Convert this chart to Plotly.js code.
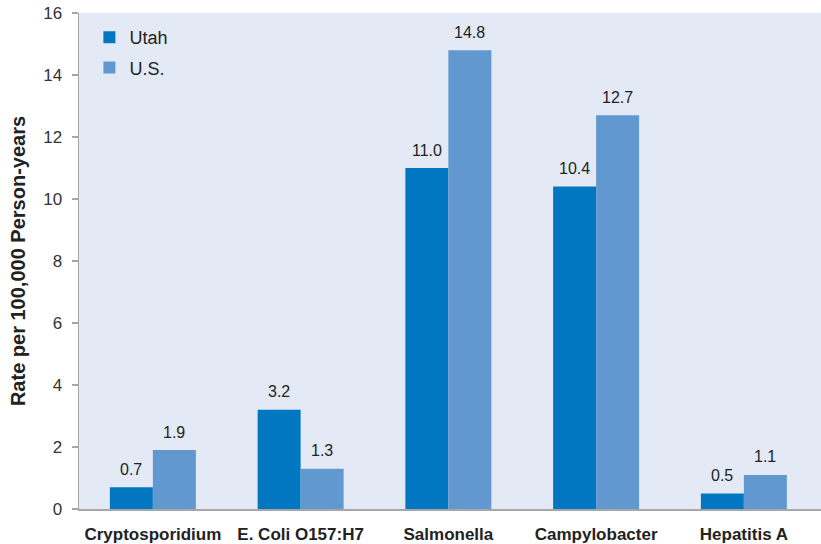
<!DOCTYPE html>
<html>
<head>
<meta charset="utf-8">
<script src="https://cdn.plot.ly/plotly-3.0.1.min.js"></script>
<style>html,body{margin:0;padding:0;background:#fff;}#chart{width:821px;height:544px;}</style>
</head>
<body>
<div id="chart"></div>
<script>
const categories = ["Cryptosporidium", "E. Coli O157:H7", "Salmonella", "Campylobacter", "Hepatitis A"];
const utahValues = [0.7, 3.2, 11.0, 10.4, 0.5];
const usValues = [1.9, 1.3, 14.8, 12.7, 1.1];
const seriesNames = ["Utah", "U.S."];
const yTicks = [0, 2, 4, 6, 8, 10, 12, 14, 16];

const colors = ["#0077C0", "#6198D0"];
const font = "Liberation Sans, Arial, sans-serif";

const traces = [utahValues, usValues].map((vals, i) => ({
  type: "bar",
  name: seriesNames[i],
  legendgroup: "g" + i,
  x: categories,
  y: vals,
  marker: {color: colors[i], line: {width: 0}},
  hoverinfo: "none"
}));

const annotations = [];
[utahValues, usValues].forEach((vals, i) => {
  vals.forEach((v, j) => {
    annotations.push({
      x: categories[j], y: v, xref: "x", yref: "y",
      text: v.toFixed(1), showarrow: false,
      xshift: i === 0 ? -21.5 : 21.5, yshift: 18, yanchor: "middle",
      font: {family: font, size: 16, color: "#222"}
    });
  });
});

const layout = {
  width: 821, height: 544,
  margin: {l: 79, r: 0, t: 13, b: 35, pad: 0},
  paper_bgcolor: "#ffffff",
  plot_bgcolor: "#E4EAF5",
  barmode: "group",
  bargap: 0.418,
  bargroupgap: 0,
  showlegend: true,
  legend: {
    x: 0.014, y: 0.988, xanchor: "left", yanchor: "top",
    bgcolor: "rgba(0,0,0,0)", borderwidth: 0,
    font: {family: font, size: 18, color: "#222"},
    tracegroupgap: 4, itemwidth: 30
  },
  xaxis: {
    type: "category",
    range: [-0.5, 4.522], autorange: false,
    showgrid: false, zeroline: false,
    showline: true, linecolor: "#A6A6A6", linewidth: 1.5,
    ticks: "",
    tickfont: {family: font, size: 17, color: "#222", weight: "bold"},
    ticklabelstandoff: 9
  },
  yaxis: {
    range: [0, 16], autorange: false,
    tickvals: yTicks, ticktext: yTicks.map(String),
    showgrid: false, zeroline: false,
    showline: true, linecolor: "#A6A6A6", linewidth: 1.5,
    ticks: "outside", ticklen: 6, tickcolor: "#A6A6A6", tickwidth: 1.5,
    tickfont: {family: font, size: 17, color: "#333"},
    ticklabelstandoff: 6,
    title: {text: "Rate per 100,000 Person-years", font: {family: font, size: 20, color: "#222", weight: "bold"}, standoff: 12}
  },
  annotations: annotations
};

Plotly.newPlot("chart", traces, layout, {displayModeBar: false, staticPlot: true});
</script>
</body>
</html>
